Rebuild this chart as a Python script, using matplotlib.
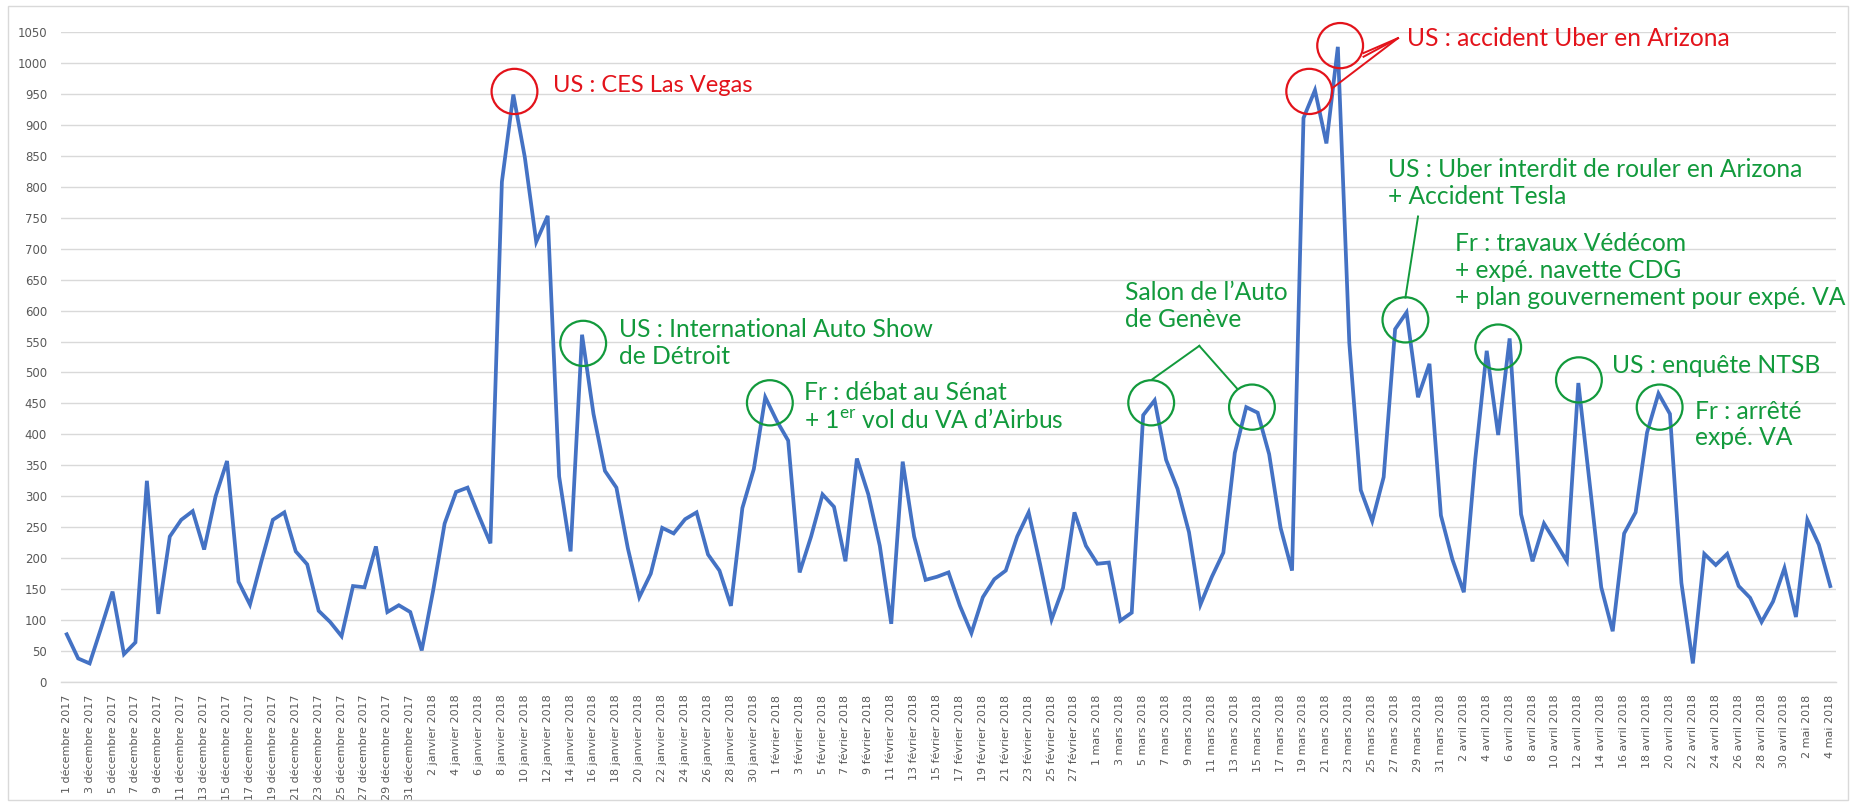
import matplotlib
matplotlib.use("Agg")
import matplotlib.pyplot as plt
from matplotlib.patches import Ellipse, Rectangle

# ---------------- data ----------------
months = ["décembre", "janvier", "février", "mars", "avril", "mai"]
month_years = [2017, 2018, 2018, 2018, 2018, 2018]
month_days = [31, 31, 28, 31, 30, 4]

values = [
    77, 38, 30, 87, 146, 45, 64, 325, 110, 235, 262, 276, 214, 300, 357, 162,
    125, 195, 262, 274, 211, 190, 115, 97, 74, 155, 153, 219, 113, 124, 113, 51,
    148, 256, 307, 314, 268, 224, 808, 949, 848, 711, 753, 332, 211, 561, 433,
    341, 314, 216, 137, 175, 249, 240, 263, 274, 206, 180, 123, 281, 344, 460,
    422, 390, 177, 235, 303, 283, 195, 361, 303, 220, 94, 356, 235, 165, 170,
    177, 123, 79, 137, 166, 180, 235, 274, 190, 101, 152, 274, 220, 191, 193,
    99, 112, 431, 455, 359, 312, 242, 125, 170, 209, 370, 444, 435, 368, 249,
    180, 911, 956, 870, 1026, 548, 310, 260, 331, 570, 597, 460, 514, 269, 198,
    145, 360, 535, 399, 555, 271, 195, 256, 226, 195, 483, 319, 153, 82, 240,
    274, 403, 466, 433, 160, 30, 207, 189, 207, 155, 136, 97, 130, 184, 105,
    262, 222, 155,
]

date_labels = []
for m, y, nd in zip(months, month_years, month_days):
    for d in range(1, nd + 1):
        date_labels.append(f"{d} {m} {y}")

y_ticks = list(range(0, 1051, 50))

# annotations: (text, x_idx, y_val, color, fontsize)
RED = "#E3131B"
GREEN = "#129A3C"
texts = [
    ("US : CES Las Vegas", 42.5, 963, RED, 17.0),
    ("US : International Auto Show\nde Détroit", 48.2, 548, GREEN, 17.7),
    ("Fr : débat au Sénat\n+ 1$^{\\mathrm{er}}$ vol du VA d’Airbus", 64.4, 445, GREEN, 17.7),
    ("Salon de l’Auto\nde Genève", 92.4, 607, GREEN, 17.7),
    ("US : accident Uber en Arizona", 117.0, 1039, RED, 17.7),
    ("US : Uber interdit de rouler en Arizona\n+ Accident Tesla", 115.4, 806, GREEN, 17.7),
    ("Fr : travaux Védécom\n+ expé. navette CDG\n+ plan gouvernement pour expé. VA", 121.2, 665, GREEN, 17.7),
    ("US : enquête NTSB", 134.9, 512, GREEN, 17.7),
    ("Fr : arrêté\nexpé. VA", 142.2, 416, GREEN, 17.7),
]
circles = [  # (x_idx, y_val, color)
    (39.1, 954, RED), (108.5, 954, RED), (111.2, 1028, RED),
    (45.1, 547, GREEN), (61.4, 451, GREEN), (94.7, 451, GREEN),
    (103.5, 444, GREEN), (116.9, 585, GREEN), (125.0, 541, GREEN),
    (132.05, 488, GREEN), (139.1, 444, GREEN),
]
connector_lines = [  # ((x0, y0), (x1, y1), color)
    ((98.9, 543), (94.8, 489), GREEN),
    ((98.9, 543), (102.2, 474), GREEN),
    ((118.0, 752), (116.9, 621), GREEN),
    ((116.25, 1040), (113.24, 1016), RED),
    ((116.25, 1040), (113.24, 1010), RED),
    ((116.25, 1040), (110.5, 959), RED),
]

# ---------------- figure ----------------
plt.rcParams["mathtext.fontset"] = "custom"
plt.rcParams["mathtext.rm"] = "Lato"

fig = plt.figure(figsize=(18.56, 8.06), dpi=100)
ax = fig.add_axes([61 / 1856, 1 - 682 / 806, (1836 - 61) / 1856, (682 - 32) / 806])

x = list(range(len(values)))
ax.plot(x, values, color="#4472C4", linewidth=2.7, solid_joinstyle="miter", zorder=3)

ax.set_xlim(-0.5, len(values) - 0.5)
ax.set_ylim(0, 1050)
ax.set_yticks(y_ticks)
ax.set_yticklabels([str(v) for v in y_ticks], fontsize=8.5, color="#595959")
ax.set_xticks(x[::2])
ax.set_xticklabels(date_labels[::2], rotation=90, fontsize=8.0, color="#595959",
                   family="DejaVu Sans")
ax.tick_params(axis="both", length=0, pad=10)
ax.tick_params(axis="x", pad=9)
ax.grid(axis="y", color="#D9D9D9", linewidth=1.0, zorder=0)
for s in ["left", "right", "top"]:
    ax.spines[s].set_visible(False)
ax.spines["bottom"].set_color("#D9D9D9")
ax.spines["bottom"].set_linewidth(1.0)

for t, tx, ty, c, fs in texts:
    ax.text(tx, ty, t, color=c, fontsize=fs, family="Lato", ha="left", va="center",
            linespacing=1.2, zorder=5, clip_on=False)

for cx, cy, c in circles:
    ax.add_patch(Ellipse((cx, cy), width=4.0, height=73, fill=False, edgecolor=c,
                         linewidth=1.6, zorder=4, clip_on=False))

for (x0, y0), (x1, y1), c in connector_lines:
    ax.plot([x0, x1], [y0, y1], color=c, linewidth=1.4, zorder=4, clip_on=False)

fig.add_artist(Rectangle((8 / 1856, 6 / 806), 1840 / 1856, 794 / 806,
                         transform=fig.transFigure, fill=False,
                         edgecolor="#D9D9D9", linewidth=1.0))

fig.savefig("out.png", dpi=100, facecolor="white")
